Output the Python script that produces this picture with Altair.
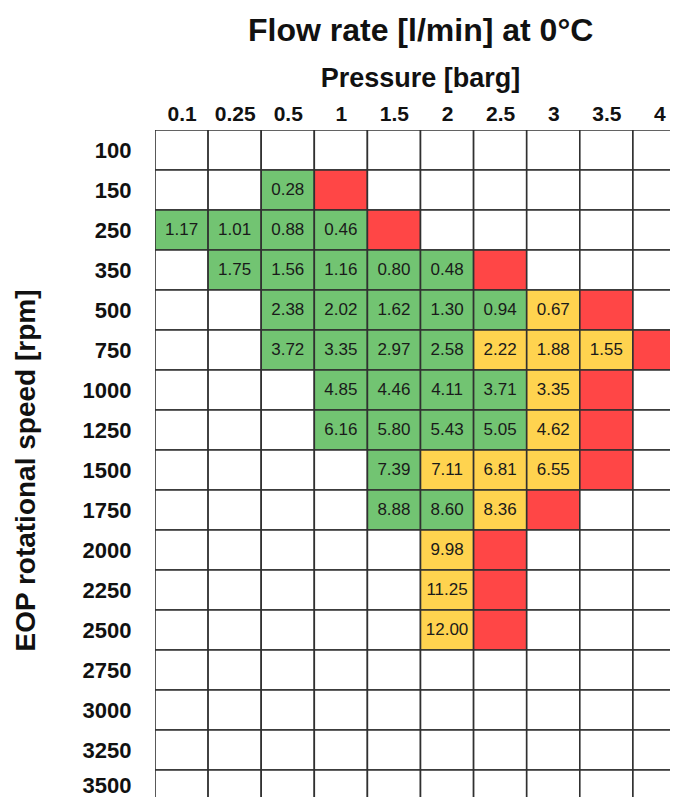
import json
import altair as alt
import pandas as pd

# ---- data ----
pressures = ["0.1", "0.25", "0.5", "1", "1.5", "2", "2.5", "3", "3.5", "4"]
speeds = ["100", "150", "250", "350", "500", "750", "1000", "1250", "1500",
          "1750", "2000", "2250", "2500", "2750", "3000", "3250", "3500"]

# zone per cell: '.' = no data, 'g' = ok (green), 'y' = limit (yellow), 'r' = not reachable (red)
zones = [
    "..........",  # 100
    "..gr......",  # 150
    "ggggr.....",  # 250
    ".gggggr...",  # 350
    "..gggggyr.",  # 500
    "..ggggyyyr",  # 750
    "...ggggyr.",  # 1000
    "...ggggyr.",  # 1250
    "....gyyyr.",  # 1500
    "....ggyr..",  # 1750
    ".....yr...",  # 2000
    ".....yr...",  # 2250
    ".....yr...",  # 2500
    "..........",  # 2750
    "..........",  # 3000
    "..........",  # 3250
    "..........",  # 3500
]

# flow values [l/min] for the green / yellow cells of each row, left to right
flows = [
    [],
    [0.28],
    [1.17, 1.01, 0.88, 0.46],
    [1.75, 1.56, 1.16, 0.80, 0.48],
    [2.38, 2.02, 1.62, 1.30, 0.94, 0.67],
    [3.72, 3.35, 2.97, 2.58, 2.22, 1.88, 1.55],
    [4.85, 4.46, 4.11, 3.71, 3.35],
    [6.16, 5.80, 5.43, 5.05, 4.62],
    [7.39, 7.11, 6.81, 6.55],
    [8.88, 8.60, 8.36],
    [9.98],
    [11.25],
    [12.00],
    [], [], [], [],
]

zone_names = {".": "none", "g": "ok", "y": "limit", "r": "over"}
zone_domain = ["none", "ok", "limit", "over"]
zone_colors = ["#ffffff", "#72C472", "#FFD34F", "#FF4646"]

rows = []
for r, sp in enumerate(speeds):
    vals = list(flows[r])
    for c, pr in enumerate(pressures):
        z = zones[r][c]
        v = vals.pop(0) if z in "gy" else None
        rows.append(dict(speed=sp, pressure=pr, c0=c, c1=c + 1, cm=c + 0.5,
                         r0=r, r1=r + 1, rm=r + 0.5, zone=zone_names[z], flow=v))
df = pd.DataFrame(rows)

FONT = "Liberation Sans"
PLOT_W = 515
PLOT_H = 667
CELL_W = 53.1
CELL_H = 40.0
XMAX = PLOT_W / CELL_W
YMAX = PLOT_H / CELL_H

x_label_expr = json.dumps(pressures) + "[floor(datum.value)]"
y_label_expr = json.dumps(speeds) + "[floor(datum.value)]"

x_axis = alt.Axis(orient="top", values=[i + 0.5 for i in range(len(pressures))],
                  labelExpr=x_label_expr, domain=False, ticks=False, grid=False,
                  labelFont=FONT, labelFontSize=21, labelFontWeight="bold", labelColor="#111",
                  labelBaseline="alphabetic", labelPadding=10, labelAngle=0,
                  title="Pressure [barg]", titleFont=FONT, titleFontSize=27,
                  titleFontWeight="bold", titleColor="#111", titleX=265, titleY=-44,
                  titleBaseline="alphabetic", titleAlign="center")
# the last row label sits at the page's lower edge: nudge only that one up a little
last_row_test = f"datum.value > {len(speeds) - 1}"
y_axis = alt.Axis(orient="left", values=[i + 0.5 for i in range(len(speeds))],
                  labelExpr=y_label_expr, domain=False, ticks=False, grid=False,
                  labelFont=FONT, labelFontSize=22, labelFontWeight="bold", labelColor="#111",
                  labelAlign="right", labelBaseline="middle", labelPadding=24,
                  labelOffset={"condition": {"test": last_row_test, "value": -5}, "value": 0},
                  title="EOP rotational speed [rpm]", titleFont=FONT, titleFontSize=28,
                  titleFontWeight="bold", titleColor="#111", titleX=-121, titleY=340,
                  titleAngle=-90, titleBaseline="alphabetic", titleAlign="center")

x_scale = alt.Scale(domain=[0, XMAX], nice=False, zero=False)
y_scale = alt.Scale(domain=[0, YMAX], nice=False, zero=False, reverse=True)

base = alt.Chart(df)

cells = base.mark_rect(stroke="#303030", strokeWidth=1.6, clip=True).encode(
    x=alt.X("c0:Q", scale=x_scale, axis=x_axis),
    x2="c1:Q",
    y=alt.Y("r0:Q", scale=y_scale, axis=y_axis),
    y2="r1:Q",
    color=alt.Color("zone:N", scale=alt.Scale(domain=zone_domain, range=zone_colors), legend=None),
)

labels = base.transform_filter("isValid(datum.flow)").mark_text(
    font=FONT, fontSize=17, color="#1a1a1a", align="center", baseline="middle", clip=True
).encode(
    x=alt.X("cm:Q", scale=x_scale, axis=x_axis),
    y=alt.Y("rm:Q", scale=y_scale, axis=y_axis),
    text=alt.Text("flow:Q", format=".2f"),
)

chart = alt.layer(cells, labels).properties(
    width=PLOT_W, height=PLOT_H,
    title=alt.Title("Flow rate [l/min] at 0°C", font=FONT, fontSize=32, fontWeight="bold",
                    color="#111", anchor="start", frame="group", dx=93, offset=16),
    autosize=alt.AutoSizeParams(type="none"),
    padding={"left": 147, "top": 122, "right": 0, "bottom": 0},
    background="white",
).configure_view(stroke=None)

chart.save("out.html", embed_options={"renderer": "svg", "actions": False})
